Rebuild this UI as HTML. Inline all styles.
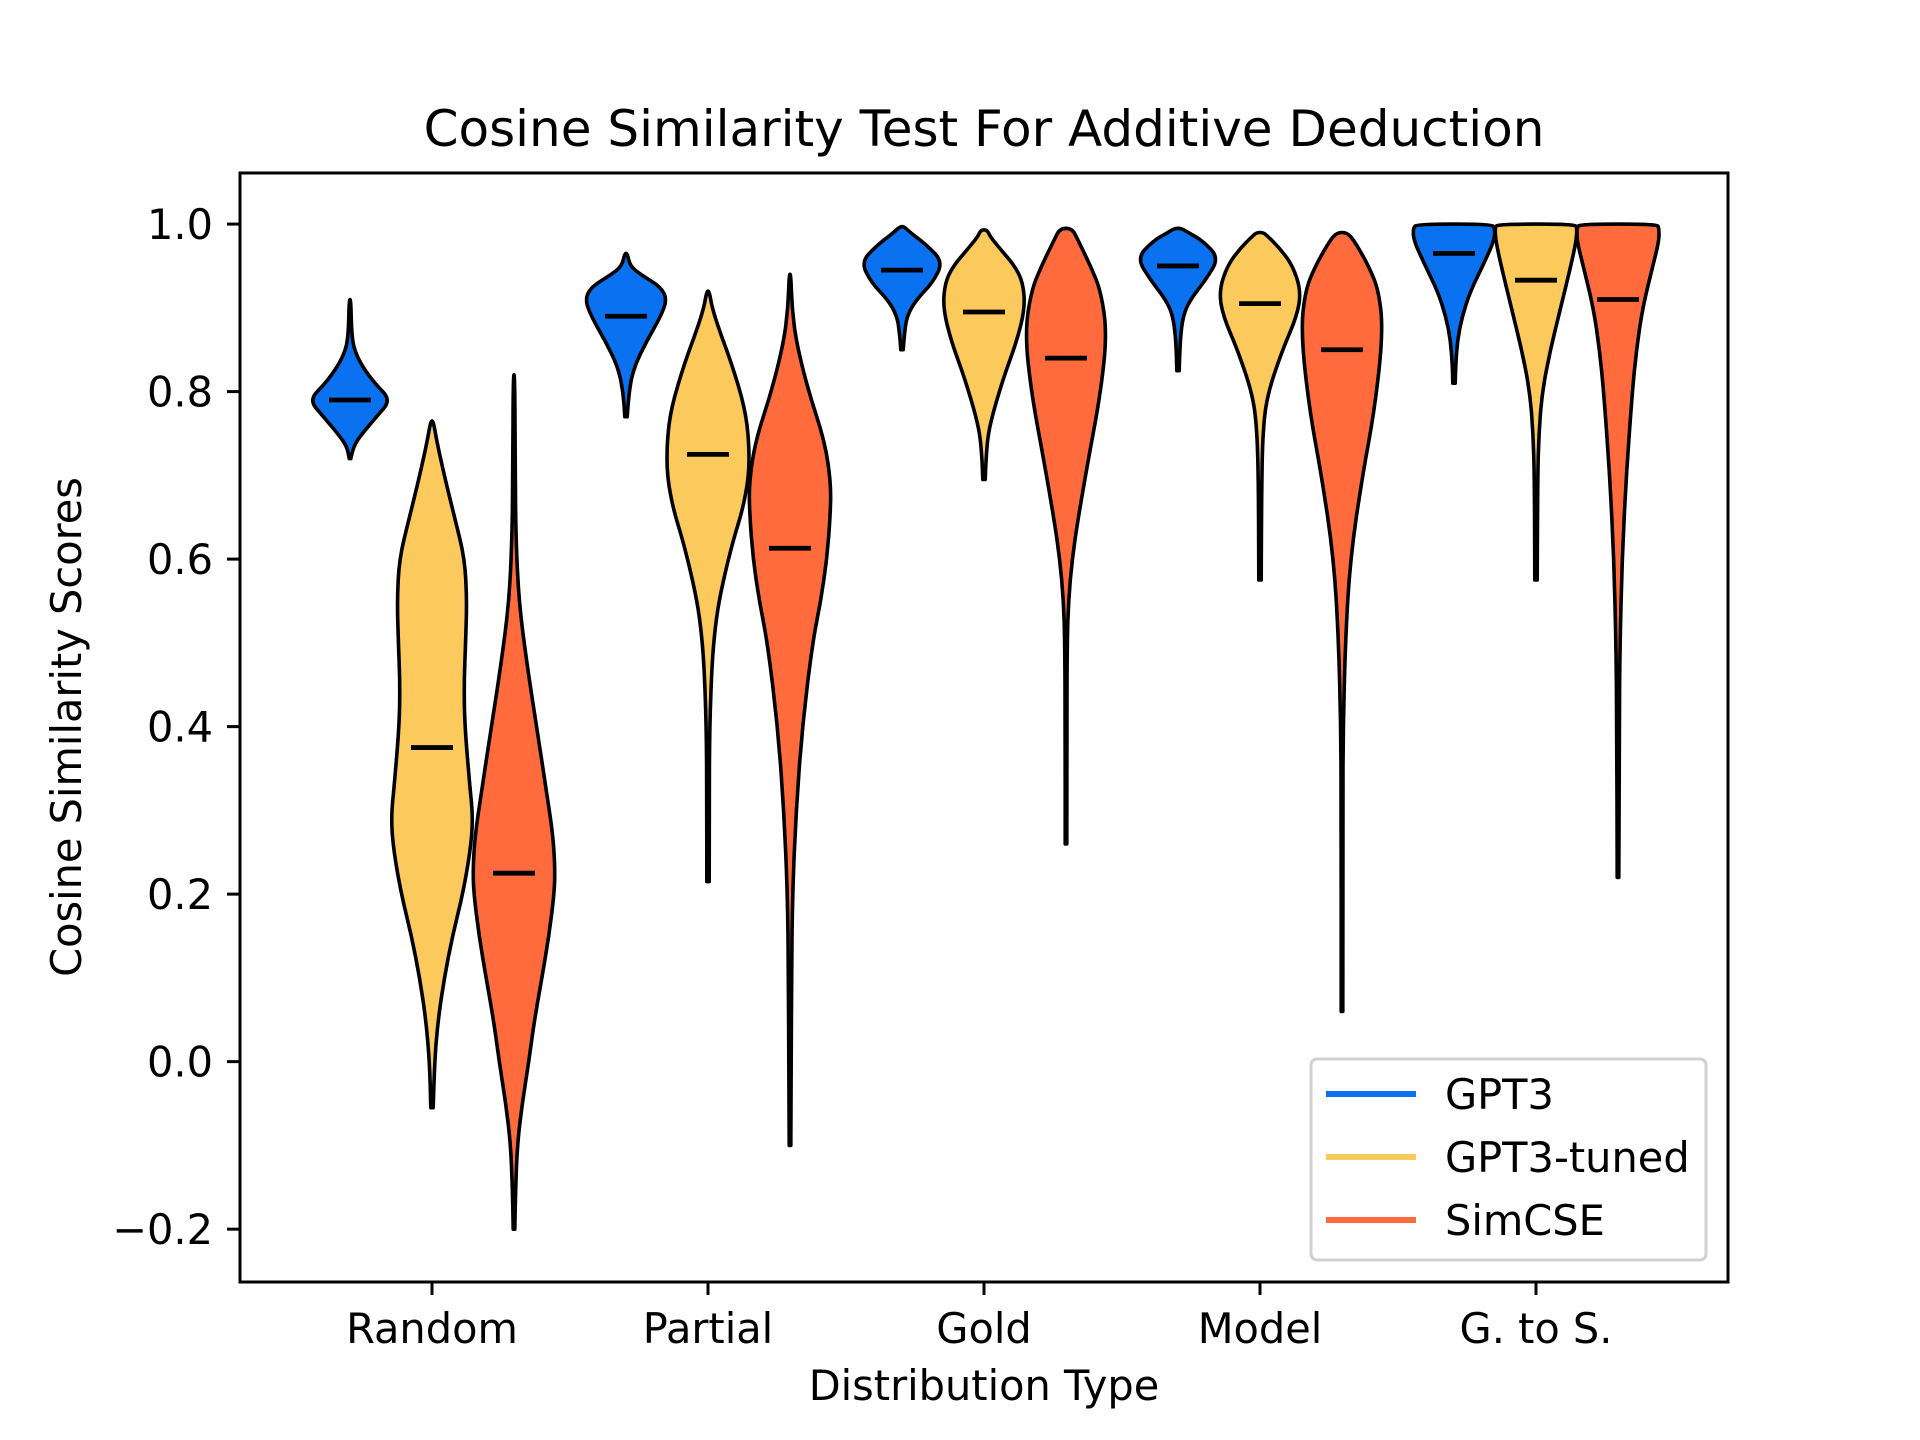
<!DOCTYPE html>
<html><head><meta charset="utf-8"><style>
html,body{margin:0;padding:0;background:#fff}
svg{display:block}
text{font-family:"DejaVu Sans","Liberation Sans",sans-serif;fill:#000}
</style></head><body>
<svg id="chart" width="1920" height="1440" viewBox="0 0 1920 1440">
<rect width="1920" height="1440" fill="#fff"/>
<text x="984" y="146" font-size="50" text-anchor="middle">Cosine Similarity Test For Additive Deduction</text>
<g id="violins"></g>
<rect x="240" y="173" width="1488" height="1109" fill="none" stroke="#000" stroke-width="3"/>
<g id="axes"></g>
<text x="984" y="1400" font-size="41.5" text-anchor="middle">Distribution Type</text>
<text transform="translate(81,727) rotate(-90)" font-size="41.5" text-anchor="middle">Cosine Similarity Scores</text>
<g id="legend">
<rect x="1311" y="1059" width="395" height="201" rx="6" fill="#fff" stroke="#d0d0d0" stroke-width="3"/>
<line x1="1326" y1="1094" x2="1416" y2="1094" stroke="#0a72f0" stroke-width="6"/>
<text x="1445" y="1109" font-size="41.5">GPT3</text>
<line x1="1326" y1="1157" x2="1416" y2="1157" stroke="#fcc95c" stroke-width="6"/>
<text x="1445" y="1172" font-size="41.5">GPT3-tuned</text>
<line x1="1326" y1="1220" x2="1416" y2="1220" stroke="#ff6b3d" stroke-width="6"/>
<text x="1445" y="1235" font-size="41.5">SimCSE</text>
</g>
</svg>
<script>
const categories = ["Random","Partial","Gold","Model","G. to S."];
const seriesNames = ["GPT3","GPT3-tuned","SimCSE"];
const yTicks = [-0.2,0.0,0.2,0.4,0.6,0.8,1.0];
const yTickLabels = ["\u22120.2","0.0","0.2","0.4","0.6","0.8","1.0"];
const means = [
  [0.79,0.375,0.225],
  [0.89,0.725,0.613],
  [0.945,0.895,0.84],
  [0.95,0.905,0.85],
  [0.965,0.933,0.91]
];
// density profiles: [value, relative density]
const gpt3Profiles = [
  [[0.72,0.02],[0.735,0.08],[0.75,0.3],[0.77,0.65],[0.79,1],[0.81,0.6],[0.83,0.3],[0.85,0.1],[0.87,0.04],[0.91,0.02]],
  [[0.77,0.03],[0.8,0.07],[0.83,0.2],[0.86,0.5],[0.89,0.85],[0.91,1],[0.925,0.85],[0.94,0.35],[0.95,0.1],[0.965,0.03]],
  [[0.85,0.03],[0.87,0.06],[0.89,0.12],[0.91,0.35],[0.93,0.75],[0.955,1],[0.975,0.6],[0.99,0.2],[0.997,0.05]],
  [[0.825,0.03],[0.86,0.05],[0.89,0.12],[0.91,0.3],[0.935,0.7],[0.96,1],[0.98,0.6],[0.99,0.25],[0.995,0.08]],
  [[0.81,0.03],[0.83,0.04],[0.86,0.08],[0.89,0.2],[0.92,0.4],[0.95,0.7],[0.98,0.98],[0.995,1],[1.0,0.9]]
];
const tunedProfiles = [
  [[-0.055,0.03],[0.0,0.06],[0.05,0.15],[0.1,0.3],[0.15,0.5],[0.2,0.75],[0.25,0.93],[0.29,1],[0.33,0.92],[0.4,0.8],[0.45,0.78],[0.5,0.82],[0.55,0.85],[0.6,0.8],[0.65,0.55],[0.7,0.3],[0.74,0.12],[0.765,0.03]],
  [[0.215,0.03],[0.3,0.03],[0.4,0.04],[0.48,0.1],[0.53,0.2],[0.57,0.35],[0.62,0.6],[0.66,0.85],[0.7,1],[0.74,1],[0.78,0.9],[0.83,0.6],[0.87,0.3],[0.9,0.1],[0.92,0.03]],
  [[0.695,0.03],[0.72,0.05],[0.75,0.1],[0.78,0.25],[0.82,0.5],[0.86,0.8],[0.9,1],[0.93,0.95],[0.95,0.75],[0.97,0.4],[0.985,0.15],[0.993,0.08]],
  [[0.575,0.03],[0.7,0.04],[0.76,0.08],[0.8,0.2],[0.85,0.55],[0.89,0.9],[0.92,1],[0.95,0.8],[0.97,0.5],[0.985,0.2],[0.99,0.08]],
  [[0.575,0.03],[0.7,0.04],[0.75,0.07],[0.8,0.15],[0.85,0.35],[0.9,0.6],[0.95,0.85],[0.98,0.98],[0.995,1],[1.0,0.95]]
];
const simcseProfiles = [
  [[-0.2,0.02],[-0.15,0.04],[-0.1,0.08],[-0.05,0.2],[0,0.36],[0.05,0.5],[0.1,0.68],[0.15,0.85],[0.2,0.98],[0.23,1],[0.27,0.95],[0.32,0.8],[0.4,0.55],[0.48,0.3],[0.55,0.12],[0.62,0.05],[0.7,0.03],[0.82,0.02]],
  [[-0.1,0.02],[0,0.03],[0.1,0.04],[0.2,0.06],[0.3,0.15],[0.4,0.3],[0.5,0.55],[0.55,0.75],[0.6,0.9],[0.65,0.98],[0.69,1],[0.74,0.85],[0.8,0.45],[0.86,0.15],[0.9,0.05],[0.94,0.02]],
  [[0.26,0.02],[0.4,0.02],[0.5,0.03],[0.55,0.06],[0.6,0.15],[0.65,0.3],[0.72,0.55],[0.8,0.85],[0.87,1],[0.92,0.85],[0.95,0.6],[0.98,0.3],[0.995,0.15]],
  [[0.06,0.02],[0.3,0.02],[0.4,0.03],[0.5,0.08],[0.6,0.2],[0.7,0.5],[0.78,0.8],[0.87,1],[0.92,0.9],[0.95,0.65],[0.98,0.3],[0.99,0.12]],
  [[0.22,0.02],[0.4,0.03],[0.5,0.05],[0.6,0.1],[0.7,0.2],[0.8,0.35],[0.85,0.45],[0.9,0.6],[0.95,0.85],[0.98,1],[0.995,1],[1.0,0.95]]
];
const profiles = [gpt3Profiles, tunedProfiles, simcseProfiles];
const colors = ["#0a72f0","#fcc95c","#ff6b3d"];

const NS = "http://www.w3.org/2000/svg";
const X0 = 432, DX = 276, OFF = 82, HALF = 41;
function xScale(i){ return X0 + i*DX; }
function yScale(v){ return 867*1.2245 - v*684*1.2245; }

function smoothPath(pts){
  let d = "M" + pts[0][0].toFixed(1) + "," + pts[0][1].toFixed(1);
  for (let i=1;i<pts.length-1;i++){
    const mx=(pts[i][0]+pts[i+1][0])/2, my=(pts[i][1]+pts[i+1][1])/2;
    d += " Q" + pts[i][0].toFixed(1)+","+pts[i][1].toFixed(1)+" "+mx.toFixed(1)+","+my.toFixed(1);
  }
  const l = pts[pts.length-1];
  d += " L" + l[0].toFixed(1)+","+l[1].toFixed(1);
  return d;
}

const vg = document.getElementById("violins");
for (let c=0;c<categories.length;c++){
  for (let s=0;s<3;s++){
    const cx = xScale(c) + (s-1)*OFF;
    const prof = profiles[s][c];
    const right = prof.map(p=>[cx + p[1]*HALF, yScale(p[0])]);
    const left = prof.slice().reverse().map(p=>[cx - p[1]*HALF, yScale(p[0])]);
    const pts = right.concat(left);
    const path = document.createElementNS(NS,"path");
    path.setAttribute("d", smoothPath(pts) + " Z");
    path.setAttribute("fill", colors[s]);
    path.setAttribute("stroke", "#000");
    path.setAttribute("stroke-width", "3.6");
    path.setAttribute("stroke-linejoin", "round");
    
    
    vg.appendChild(path);
    const m = document.createElementNS(NS,"line");
    const my = yScale(means[c][s]);
    m.setAttribute("x1", cx-21); m.setAttribute("x2", cx+21);
    m.setAttribute("y1", my); m.setAttribute("y2", my);
    m.setAttribute("stroke", "#000"); m.setAttribute("stroke-width", "4.8");
    
    
    vg.appendChild(m);
  }
}

const ag = document.getElementById("axes");
for (let i=0;i<yTicks.length;i++){
  const y = yScale(yTicks[i]);
  const t = document.createElementNS(NS,"line");
  t.setAttribute("x1",227); t.setAttribute("x2",240); t.setAttribute("y1",y); t.setAttribute("y2",y);
  t.setAttribute("stroke","#000"); t.setAttribute("stroke-width","3");
  
  
  ag.appendChild(t);
  const lb = document.createElementNS(NS,"text");
  lb.setAttribute("x",213); lb.setAttribute("y",y+15);
  lb.setAttribute("font-size","41.5"); lb.setAttribute("text-anchor","end");
  lb.textContent = yTickLabels[i];
  
  
  ag.appendChild(lb);
}
for (let i=0;i<categories.length;i++){
  const x = xScale(i);
  const t = document.createElementNS(NS,"line");
  t.setAttribute("x1",x); t.setAttribute("x2",x); t.setAttribute("y1",1282); t.setAttribute("y2",1295);
  t.setAttribute("stroke","#000"); t.setAttribute("stroke-width","3");
  
  
  ag.appendChild(t);
  const lb = document.createElementNS(NS,"text");
  lb.setAttribute("x",x); lb.setAttribute("y",1343);
  lb.setAttribute("font-size","41.5"); lb.setAttribute("text-anchor","middle");
  lb.textContent = categories[i];
  
  
  ag.appendChild(lb);
}
</script>
</body></html>
